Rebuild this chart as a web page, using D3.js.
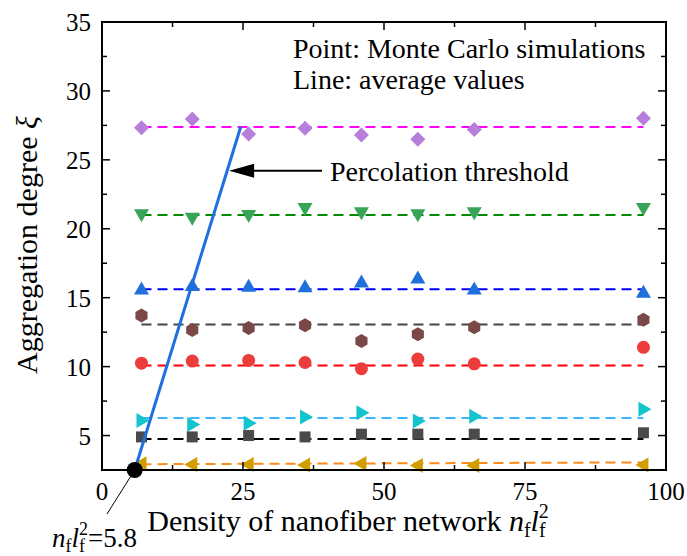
<!DOCTYPE html>
<html><head><meta charset="utf-8">
<script src="https://cdn.jsdelivr.net/npm/d3@7"></script>
<style>body{margin:0;background:#fff}svg{display:block}text{font-family:"Liberation Serif","Times New Roman",serif;fill:#000}</style>
</head><body><svg id="c" width="687" height="556"></svg>
<script>
const xValues = [7, 16, 26, 36, 46, 56, 66, 96];
const seriesNames = ["diamond", "triDown", "triUp", "hexagon", "circle", "triRight", "square", "triLeft"];
const diamondVals  = [27.33, 27.96, 26.87, 27.3, 26.8, 26.5, 27.21, 28.01];
const triDownVals  = [21.05, 20.8, 21.0, 21.5, 21.2, 21.05, 21.2, 21.5];
const triUpVals    = [15.6, 15.85, 15.8, 15.75, 16.1, 16.4, 15.6, 15.35];
const hexagonVals  = [13.7, 12.65, 12.8, 13.0, 11.85, 12.35, 12.85, 13.4];
const circleVals   = [10.25, 10.4, 10.45, 10.3, 9.85, 10.55, 10.2, 11.4];
const triRightVals = [6.1, 5.8, 5.9, 6.35, 6.65, 6.05, 6.4, 6.9];
const squareVals   = [4.9, 4.9, 5.0, 4.9, 5.1, 5.1, 5.1, 5.2];
const triLeftVals  = [2.95, 2.9, 2.9, 2.87, 2.97, 2.82, 2.82, 2.87];
const avgStart = [27.38, 21.0, 15.62, 13.05, 10.08, 6.27, 4.75, 2.92];
const avgEnd   = [27.38, 21.0, 15.62, 13.05, 10.08, 6.27, 4.75, 3.05];
const xTicks = [0, 25, 50, 75, 100];
const yTicks = [5, 10, 15, 20, 25, 30, 35];
const threshold = {x0: 5.8, y0: 2.5, x1: 24.6, y1: 27.4};
const arrowY = 24.2;

const markerColors = ["#b77edb", "#37a458", "#1f70dc", "#7a4846", "#ec3c3c", "#14c4cc", "#4a4a4a", "#d19e00"];
const lineColors   = ["#ff00ff", "#008a00", "#0000ff", "#454545", "#ff0000", "#3cb4ff", "#000000", "#ff8a1a"];
const allVals = [diamondVals, triDownVals, triUpVals, hexagonVals, circleVals, triRightVals, squareVals, triLeftVals];

const svg = d3.select("#c");
const L = 102, R = 666, T = 22, B = 470;
const x = d3.scaleLinear().domain([0, 100]).range([L, R]);
const y = d3.scaleLinear().domain([2.5, 35]).range([B, T]);

// dashed average lines
const g = svg.append("g");
seriesNames.forEach((n, i) => {
  g.append("line")
    .attr("x1", x(xValues[0])).attr("x2", x(xValues[xValues.length - 1]))
    .attr("y1", y(avgStart[i])).attr("y2", y(avgEnd[i]))
    .attr("stroke", lineColors[i]).attr("stroke-width", 2)
    .attr("stroke-dasharray", "10,6");
});

function shapePath(type) {
  const p = d3.path();
  const poly = pts => { p.moveTo(pts[0][0], pts[0][1]); pts.slice(1).forEach(q => p.lineTo(q[0], q[1])); p.closePath(); };
  if (type === "diamond") poly([[0,-7.5],[7.5,0],[0,7.5],[-7.5,0]]);
  else if (type === "triDown") poly([[-7.5,-5],[7.5,-5],[0,8]]);
  else if (type === "triUp") poly([[-7.5,5],[7.5,5],[0,-8]]);
  else if (type === "triRight") poly([[-5,-7.5],[-5,7.5],[8,0]]);
  else if (type === "triLeft") poly([[5,-7.5],[5,7.5],[-8,0]]);
  else if (type === "square") poly([[-5.5,-5.5],[5.5,-5.5],[5.5,5.5],[-5.5,5.5]]);
  else if (type === "hexagon") { const r = 7; poly(d3.range(6).map(k => [r*Math.cos(Math.PI/2 + k*Math.PI/3), r*Math.sin(Math.PI/2 + k*Math.PI/3)])); }
  else if (type === "circle") { p.arc(0, 0, 6.5, 0, 2*Math.PI); }
  return p.toString();
}

seriesNames.forEach((n, i) => {
  g.selectAll(null).data(allVals[i]).enter().append("path")
    .attr("d", shapePath(n))
    .attr("transform", (d, j) => `translate(${x(xValues[j])},${y(d)})`)
    .attr("fill", markerColors[i]);
});

// threshold line
svg.append("line")
  .attr("x1", x(threshold.x0)).attr("y1", y(threshold.y0))
  .attr("x2", x(threshold.x1)).attr("y2", y(threshold.y1))
  .attr("stroke", "#1f6fe0").attr("stroke-width", 3);

// arrow
const tipX = x(threshold.x0 + (threshold.x1 - threshold.x0) * (arrowY - threshold.y0) / (threshold.y1 - threshold.y0)) + 2;
const ay = y(arrowY);
svg.append("line").attr("x1", tipX + 20).attr("x2", 322).attr("y1", ay).attr("y2", ay)
  .attr("stroke", "#000").attr("stroke-width", 2);
svg.append("path").attr("d", `M${tipX},${ay} L${tipX + 25},${ay - 7} L${tipX + 25},${ay + 7} Z`).attr("fill", "#000");
svg.append("text").attr("x", 330).attr("y", 181).attr("font-size", 28).text("Percolation threshold");

// black dot and annotation
svg.append("line").attr("x1", x(threshold.x0)).attr("y1", y(threshold.y0))
  .attr("x2", 107).attr("y2", 514).attr("stroke", "#000").attr("stroke-width", 1);
svg.append("circle").attr("cx", x(threshold.x0)).attr("cy", y(threshold.y0)).attr("r", 8).attr("fill", "#000");

// frame
svg.append("rect").attr("x", L).attr("y", T).attr("width", R - L).attr("height", B - T)
  .attr("fill", "none").attr("stroke", "#000").attr("stroke-width", 2);

// ticks (inward, all four sides)
const ax = svg.append("g").attr("stroke", "#000").attr("stroke-width", 1.5);
const xMinor = d3.range(12.5, 100, 25);
const yMinor = d3.range(2.5, 35, 5);
[[xTicks, 8], [xMinor, 5]].forEach(([arr, len]) => arr.forEach(v => {
  ax.append("line").attr("x1", x(v)).attr("x2", x(v)).attr("y1", B).attr("y2", B - len);
  ax.append("line").attr("x1", x(v)).attr("x2", x(v)).attr("y1", T).attr("y2", T + len);
}));
[[yTicks, 8], [yMinor, 5]].forEach(([arr, len]) => arr.forEach(v => {
  ax.append("line").attr("y1", y(v)).attr("y2", y(v)).attr("x1", L).attr("x2", L + len);
  ax.append("line").attr("y1", y(v)).attr("y2", y(v)).attr("x1", R).attr("x2", R - len);
}));

// tick labels
svg.append("g").selectAll("text").data(xTicks).enter().append("text")
  .attr("x", d => x(d)).attr("y", 500).attr("text-anchor", "middle").attr("font-size", 25).text(d => d);
svg.append("g").selectAll("text").data(yTicks).enter().append("text")
  .attr("x", 91).attr("y", d => y(d) + 9).attr("text-anchor", "end").attr("font-size", 25).text(d => d);

// axis titles
const xt = svg.append("text").attr("x", 348).attr("y", 531).attr("text-anchor", "middle").attr("font-size", 30);
xt.append("tspan").text("Density of nanofiber network ");
xt.append("tspan").attr("font-style", "italic").text("n");
xt.append("tspan").attr("font-size", 20).attr("dy", 6).text("f");
xt.append("tspan").attr("font-style", "italic").attr("dy", -6).text("l");
xt.append("tspan").attr("font-size", 20).attr("dy", 6).text("f");
xt.append("tspan").attr("font-size", 20).attr("dx", -7).attr("dy", -19).text("2");

const yt = svg.append("text").attr("transform", "translate(37,245) rotate(-90)").attr("text-anchor", "middle").attr("font-size", 30);
yt.append("tspan").text("Aggregation degree  ");
yt.append("tspan").attr("font-style", "italic").text("ξ");

// annotation n_f l_f^2 = 5.8
const an = svg.append("text").attr("x", 52).attr("y", 547).attr("font-size", 27);
an.append("tspan").attr("font-style", "italic").text("n");
an.append("tspan").attr("font-size", 18).attr("dy", 5).text("f");
an.append("tspan").attr("font-style", "italic").attr("dy", -5).text("l");
an.append("tspan").attr("font-size", 18).attr("dy", 5).text("f");
an.append("tspan").attr("font-size", 18).attr("dx", -6).attr("dy", -17).text("2");
an.append("tspan").attr("dy", 12).text("=5.8");

// legend text
svg.append("text").attr("x", 293).attr("y", 58).attr("font-size", 28).text("Point: Monte Carlo simulations");
svg.append("text").attr("x", 293).attr("y", 89).attr("font-size", 28).text("Line: average values");
</script></body></html>
